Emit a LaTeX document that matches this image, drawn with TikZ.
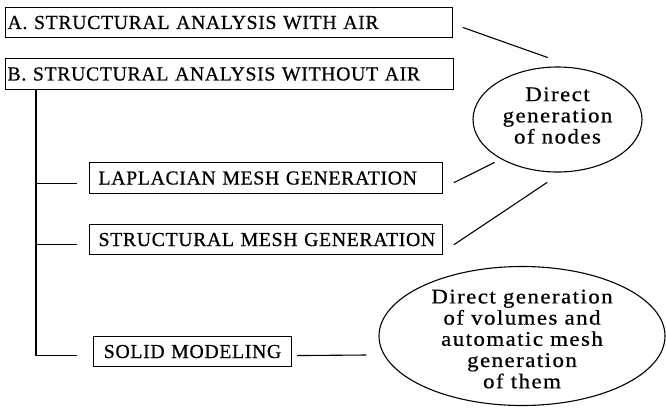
\documentclass[tikz,border=0pt]{standalone}
\usepackage{fontspec}
\setmainfont{Liberation Serif}
\newfontfamily\capsfont[LetterSpace=3.2,FakeBold=0.6]{Liberation Serif}
\newfontfamily\lowfont[LetterSpace=7,FakeStretch=1.1,FakeBold=0.6]{Liberation Serif}
\usetikzlibrary{shapes.geometric}

\tikzset{
  base/.style={line width=1.1pt},
  labelbox/.style={base, draw, rectangle, anchor=north west, align=left,
    inner ysep=0pt, minimum height=30pt,
    font=\capsfont\fontsize{19.8}{23}\selectfont},
  bubble/.style={base, draw, ellipse, inner sep=0pt},
  bubbletext/.style={align=center, inner sep=0pt,
    font=\lowfont\fontsize{20.8}{21.2}\selectfont},
  link/.style={base, line cap=round}
}

\begin{document}
\begin{tikzpicture}[x=1pt,y=-1pt]
\useasboundingbox (0,0) rectangle (666,408);

% analysis options
\node[labelbox, inner xsep=2pt, text width=443pt] (a) at (5,7)
  {\mbox{A. STRUCTURAL ANALYSIS WITH AIR}};
\node[labelbox, inner xsep=2pt, text width=444pt, minimum height=31pt] (b) at (5,58)
  {\mbox{B. STRUCTURAL ANALYSIS WITHOUT AIR}};

% sub-options of B
\node[labelbox, inner xsep=9pt, text width=335pt, minimum height=31pt] (lap) at (89,162)
  {\mbox{LAPLACIAN MESH GENERATION}};
\node[labelbox, inner xsep=9pt, text width=335pt] (str) at (89,224)
  {\mbox{STRUCTURAL MESH GENERATION}};
\node[labelbox, inner xsep=0pt, align=center, text width=198pt] (sol) at (93,336)
  {\mbox{SOLID MODELING}};

% generation methods
\node[bubble, minimum width=169pt, minimum height=105pt] (gn) at (557.5,119.5) {};
\node[bubbletext] (gntext) at ([yshift=4pt]gn.center)
  {Direct\\generation\\of nodes};
\node[bubble, minimum width=286pt, minimum height=139pt] (gv) at (522,336) {};
\node[bubbletext] (gvtext) at ([yshift=-3pt]gv.center)
  {Direct generation\\of volumes and\\automatic mesh\\generation\\of them};

% tree from B to its sub-options
\coordinate (t0) at ([xshift=31pt]b.south west);
\coordinate (lapin) at ([shift={(-12pt,-5.5pt)}]lap.west);
\coordinate (strin) at ([shift={(-12pt,-5pt)}]str.west);
\coordinate (solin) at ([shift={(-16pt,-4pt)}]sol.west);
\draw[base] (t0) |- (solin);
\draw[base] (lapin) -- (t0 |- lapin);
\draw[base] (strin) -- (t0 |- strin);

% links to the generation methods
\draw[link] ([shift={(10pt,-5pt)}]a.east) -- ([shift={(-10pt,9pt)}]gn.north);
\draw[link] ([shift={(11pt,-4.5pt)}]lap.east) -- ([shift={(-3pt,-5.5pt)}]gn.south west);
\draw[link] ([shift={(11pt,-5pt)}]str.east) -- ([shift={(-10.5pt,-10pt)}]gn.south);
\coordinate (gvin) at ([shift={(-12pt,-19pt)}]gv.west);
\draw[base] ([shift={(5pt,-4pt)}]sol.east) -- (gvin);
\end{tikzpicture}
\end{document}
